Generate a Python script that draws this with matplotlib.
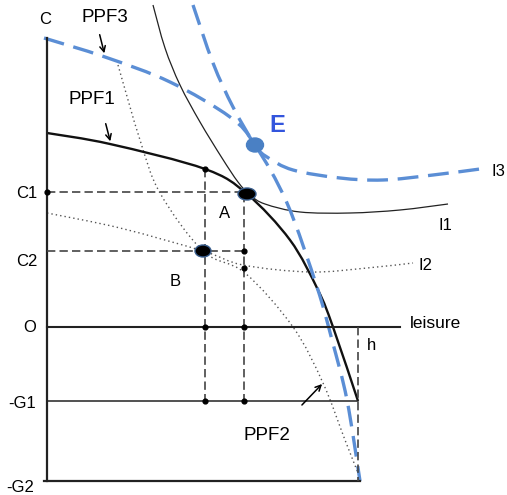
import numpy as np
import matplotlib.pyplot as plt
from matplotlib.path import Path
from matplotlib.patches import PathPatch, Ellipse

plt.rcParams['font.family'] = ['Liberation Sans', 'DejaVu Sans']
plt.rcParams['lines.scale_dashes'] = False

# key points of the schematic (image pixel coordinates, y downward)
ppf1 = [(47, 133), (110, 144), (205, 169), (247, 194), (290, 240), (318, 290), (333, 327), (358, 401)]
ppf2 = [(118, 65), (140, 140), (160, 193), (203, 251), (245, 273), (293, 327), (323, 383), (345, 440), (360, 478)]
ppf3 = [(44, 38), (105, 57), (170, 82), (230, 117), (255, 145), (287, 203), (317, 287), (332, 340), (347, 400), (360, 481)]
i1 = [(153, 5), (165, 48), (180, 85), (200, 122), (222, 158), (238, 182), (250, 195), (265, 204), (300, 212),
      (350, 213), (400, 210), (448, 204)]
i2 = [(47, 213), (120, 228), (203, 251), (243, 265), (310, 272), (367, 268), (413, 263)]
i3 = [(193, 5), (213, 63), (233, 107), (255, 145), (267, 157), (293, 170), (340, 178), (383, 180), (433, 175), (480, 169)]

x_axis = 47
y_top, y_O, y_G1, y_G2 = 38, 327, 401, 481
x_h = 358
x_B, x_A = 205, 244
y_C1, y_C2 = 192, 251
pt_A, pt_B, pt_E = (247, 194), (203, 251), (255, 145)

ylabels = ['C', 'C1', 'C2', 'O', '-G1', '-G2']
ylabel_pos = [(45, 20), (27, 194), (27, 262), (30, 327), (22, 404), (20, 487)]

BLUE = '#5b8ed5'


def smooth(pts):
    # Catmull-Rom anchors turned into cubic bezier segments
    p = np.array(pts, float)
    verts = [p[0]]
    codes = [Path.MOVETO]
    for i in range(len(p) - 1):
        p0 = p[i - 1] if i > 0 else p[i]
        p3 = p[i + 2] if i + 2 < len(p) else p[i + 1]
        c1 = p[i] + (p[i + 1] - p0) / 6
        c2 = p[i + 1] - (p3 - p[i]) / 6
        verts += [c1, c2, p[i + 1]]
        codes += [Path.CURVE4] * 3
    return Path(verts, codes)


fig = plt.figure(figsize=(5.07, 4.95), dpi=100)
ax = fig.add_axes([0, 0, 1, 1])
ax.set_xlim(0, 507)
ax.set_ylim(495, 0)
ax.axis('off')

# axes frame
ax.plot([x_axis, x_axis], [y_top, y_G2], color='#222', lw=1.6)
ax.plot([44, x_h + 2], [y_G2, y_G2], color='#222', lw=1.6)
ax.plot([x_axis, 400], [y_O, y_O], color='#222', lw=1.5)
ax.plot([x_axis, x_h], [y_G1, y_G1], color='#222', lw=1.1)

dash = dict(color='#444', lw=1.2, ls=(0, (6, 3)))
ax.plot([x_h, x_h], [y_O, y_G2], **dash)
ax.plot([x_axis, pt_A[0]], [y_C1, y_C1], **dash)
ax.plot([x_axis, x_A], [y_C2, y_C2], **dash)
ax.plot([x_B, x_B], [169, y_G1], **dash)
ax.plot([x_A, x_A], [pt_A[1], y_G1], **dash)

# curves
ax.add_patch(PathPatch(smooth(i1), fill=False, ec='#222', lw=0.9))
ax.add_patch(PathPatch(smooth(i2), fill=False, ec='#555', lw=1.0, ls=(0, (1, 2.2))))
ax.add_patch(PathPatch(smooth(ppf2), fill=False, ec='#555', lw=1.0, ls=(0, (1, 2.2))))
ax.add_patch(PathPatch(smooth(ppf1), fill=False, ec='#111', lw=1.7))
ax.add_patch(PathPatch(smooth(ppf3), fill=False, ec=BLUE, lw=2.4, ls=(0, (15, 7))))
ax.add_patch(PathPatch(smooth(i3), fill=False, ec=BLUE, lw=2.4, ls=(0, (15, 7))))

# small dots
dots_x = [x_axis, x_B, x_A, x_A, x_B, x_A, x_B, x_A]
dots_y = [y_C1, 169, y_C2, 268, y_O, y_O, y_G1, y_G1]
ax.scatter(dots_x, dots_y, s=12, color='black', zorder=5)

# big points
ax.add_patch(Ellipse(pt_A, 18, 12, fc='black', ec='#3a5f8f', lw=1, zorder=6))
ax.add_patch(Ellipse(pt_B, 16, 12, fc='black', ec='#3a5f8f', lw=1, zorder=6))
ax.add_patch(Ellipse(pt_E, 17, 14, fc='#4a80c4', ec='#4a80c4', zorder=6))

fs = 12
for lab, (x, y) in zip(ylabels, ylabel_pos):
    ax.text(x, y, lab, fontsize=fs, ha='center', va='center')

ax.text(277, 126, 'E', fontsize=17, fontweight='bold', color='#3355dd', ha='center', va='center')
ax.text(225, 213, 'A', fontsize=fs, ha='center', va='center')
ax.text(175, 281, 'B', fontsize=fs, ha='center', va='center')
ax.text(445, 226, 'I1', fontsize=fs, ha='center', va='center')
ax.text(426, 265, 'I2', fontsize=fs, ha='center', va='center')
ax.text(498, 172, 'I3', fontsize=fs, ha='center', va='center')
ax.text(410, 323, 'leisure', fontsize=12.5, ha='left', va='center')
ax.text(371, 346, 'h', fontsize=fs, ha='center', va='center')
ax.text(105, 17, 'PPF3', fontsize=13.5, ha='center', va='center')
ax.text(92, 99, 'PPF1', fontsize=13.5, ha='center', va='center')
ax.text(267, 436, 'PPF2', fontsize=13.5, ha='center', va='center')

arrow = dict(arrowstyle='->', color='black', lw=1.1)
ax.annotate('', xy=(105, 56), xytext=(99, 32), arrowprops=arrow)
ax.annotate('', xy=(111, 144), xytext=(105, 121), arrowprops=arrow)
ax.annotate('', xy=(324, 382), xytext=(300, 407), arrowprops=arrow)

fig.savefig('out.png', dpi=100)
